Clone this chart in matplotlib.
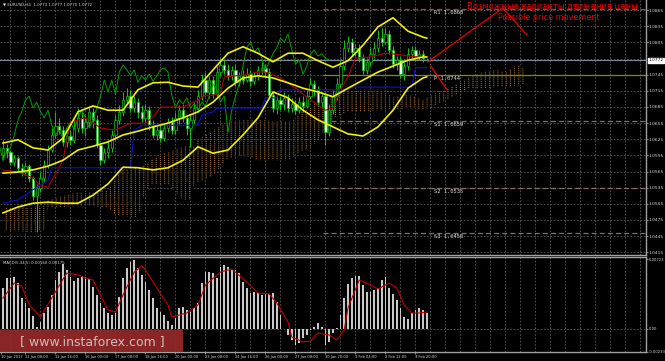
import matplotlib
matplotlib.use("Agg")
import matplotlib.pyplot as plt
from matplotlib.patches import Rectangle
from matplotlib.transforms import blended_transform_factory

# EURUSD H4, bar 0 = 10 Jan 2017 00:00
opens = [1.0596, 1.0609, 1.0601, 1.0583, 1.0590, 1.0572, 1.0564, 1.0575, 1.0553, 1.0519,
         1.0534, 1.0553, 1.0577, 1.0605, 1.0633, 1.0650, 1.0642, 1.0620, 1.0631, 1.0624,
         1.0646, 1.0665, 1.0646, 1.0657, 1.0676, 1.0661, 1.0614, 1.0586, 1.0601, 1.0609,
         1.0633, 1.0661, 1.0676, 1.0698, 1.0705, 1.0683, 1.0694, 1.0676, 1.0665, 1.0679,
         1.0651, 1.0633, 1.0642, 1.0627, 1.0646, 1.0657, 1.0642, 1.0665, 1.0679, 1.0665,
         1.0646, 1.0661, 1.0683, 1.0705, 1.0735, 1.0713, 1.0735, 1.0709, 1.0750, 1.0763,
         1.0754, 1.0744, 1.0754, 1.0731, 1.0743, 1.0735, 1.0746, 1.0733, 1.0743, 1.0754,
         1.0758, 1.0750, 1.0707, 1.0683, 1.0698, 1.0691, 1.0702, 1.0683, 1.0691, 1.0679,
         1.0694, 1.0687, 1.0705, 1.0728, 1.0717, 1.0694, 1.0705, 1.0638, 1.0679, 1.0705,
         1.0728, 1.0761, 1.0795, 1.0806, 1.0787, 1.0795, 1.0776, 1.0754, 1.0769, 1.0784,
         1.0795, 1.0813, 1.0806, 1.0821, 1.0791, 1.0765, 1.0772, 1.0746, 1.0761, 1.0784,
         1.0791, 1.0780, 1.0784, 1.0773]
highs = [1.0624, 1.0616, 1.0605, 1.0596, 1.0594, 1.0581, 1.0583, 1.0579, 1.0557, 1.0542,
         1.0564, 1.0586, 1.0614, 1.0646, 1.0676, 1.0665, 1.0650, 1.0638, 1.0642, 1.0661,
         1.0683, 1.0676, 1.0670, 1.0687, 1.0683, 1.0670, 1.0620, 1.0609, 1.0624, 1.0642,
         1.0670, 1.0689, 1.0713, 1.0720, 1.0717, 1.0705, 1.0702, 1.0689, 1.0691, 1.0687,
         1.0661, 1.0650, 1.0651, 1.0653, 1.0665, 1.0666, 1.0676, 1.0689, 1.0691, 1.0670,
         1.0672, 1.0694, 1.0717, 1.0746, 1.0750, 1.0743, 1.0743, 1.0761, 1.0776, 1.0772,
         1.0765, 1.0761, 1.0765, 1.0750, 1.0754, 1.0758, 1.0754, 1.0750, 1.0761, 1.0769,
         1.0765, 1.0758, 1.0713, 1.0705, 1.0705, 1.0713, 1.0709, 1.0702, 1.0698, 1.0704,
         1.0705, 1.0717, 1.0739, 1.0735, 1.0724, 1.0713, 1.0713, 1.0691, 1.0717, 1.0739,
         1.0772, 1.0810, 1.0817, 1.0813, 1.0802, 1.0802, 1.0784, 1.0776, 1.0795, 1.0806,
         1.0828, 1.0832, 1.0832, 1.0828, 1.0798, 1.0780, 1.0780, 1.0769, 1.0795, 1.0798,
         1.0798, 1.0791, 1.0791, 1.0777]
lows = [1.0586, 1.0590, 1.0577, 1.0575, 1.0564, 1.0557, 1.0558, 1.0545, 1.0512, 1.0452,
        1.0527, 1.0545, 1.0572, 1.0601, 1.0627, 1.0635, 1.0612, 1.0611, 1.0614, 1.0618,
        1.0638, 1.0637, 1.0631, 1.0650, 1.0646, 1.0609, 1.0577, 1.0581, 1.0590, 1.0601,
        1.0624, 1.0653, 1.0668, 1.0691, 1.0676, 1.0676, 1.0665, 1.0657, 1.0657, 1.0642,
        1.0627, 1.0624, 1.0620, 1.0622, 1.0638, 1.0635, 1.0635, 1.0653, 1.0657, 1.0633,
        1.0611, 1.0653, 1.0676, 1.0698, 1.0705, 1.0702, 1.0702, 1.0705, 1.0743, 1.0746,
        1.0735, 1.0735, 1.0724, 1.0724, 1.0728, 1.0731, 1.0724, 1.0728, 1.0735, 1.0746,
        1.0743, 1.0702, 1.0676, 1.0672, 1.0679, 1.0679, 1.0676, 1.0676, 1.0672, 1.0674,
        1.0676, 1.0683, 1.0698, 1.0705, 1.0687, 1.0683, 1.0614, 1.0631, 1.0672, 1.0698,
        1.0720, 1.0754, 1.0787, 1.0780, 1.0780, 1.0769, 1.0746, 1.0746, 1.0761, 1.0776,
        1.0787, 1.0798, 1.0802, 1.0784, 1.0758, 1.0754, 1.0739, 1.0735, 1.0754, 1.0776,
        1.0772, 1.0772, 1.0769, 1.0770]
closes = [1.0609, 1.0601, 1.0583, 1.0590, 1.0572, 1.0564, 1.0575, 1.0553, 1.0519, 1.0534,
          1.0553, 1.0577, 1.0605, 1.0633, 1.0650, 1.0642, 1.0620, 1.0631, 1.0624, 1.0646,
          1.0665, 1.0646, 1.0657, 1.0676, 1.0661, 1.0614, 1.0586, 1.0601, 1.0609, 1.0633,
          1.0661, 1.0676, 1.0698, 1.0705, 1.0683, 1.0694, 1.0676, 1.0665, 1.0679, 1.0651,
          1.0633, 1.0642, 1.0627, 1.0646, 1.0657, 1.0642, 1.0665, 1.0679, 1.0665, 1.0646,
          1.0661, 1.0683, 1.0705, 1.0735, 1.0713, 1.0735, 1.0709, 1.0750, 1.0763, 1.0754,
          1.0744, 1.0754, 1.0731, 1.0743, 1.0735, 1.0746, 1.0733, 1.0743, 1.0754, 1.0758,
          1.0750, 1.0707, 1.0683, 1.0698, 1.0691, 1.0702, 1.0683, 1.0691, 1.0679, 1.0694,
          1.0687, 1.0705, 1.0728, 1.0717, 1.0694, 1.0705, 1.0638, 1.0679, 1.0705, 1.0728,
          1.0761, 1.0795, 1.0806, 1.0787, 1.0795, 1.0776, 1.0754, 1.0769, 1.0784, 1.0795,
          1.0813, 1.0806, 1.0821, 1.0791, 1.0765, 1.0772, 1.0746, 1.0761, 1.0784, 1.0791,
          1.0780, 1.0784, 1.0776, 1.0772]

# Bollinger bands, read every 4 bars
bb_bars = [0, 4, 8, 12, 16, 20, 24, 28, 32, 36, 40, 44, 48, 52, 56, 60, 64, 68, 72, 76,
           80, 84, 88, 92, 96, 100, 104, 108, 112, 113]
bb_upper = [1.0618, 1.0624, 1.0609, 1.0605, 1.0627, 1.0676, 1.0687, 1.0679, 1.0679, 1.0717,
            1.0730, 1.0731, 1.0724, 1.0722, 1.0754, 1.0785, 1.0797, 1.0785, 1.0769, 1.0785,
            1.0785, 1.0771, 1.0759, 1.0771, 1.0800, 1.0834, 1.0851, 1.0826, 1.0815, 1.0813]
bb_middle = [1.0562, 1.0564, 1.0568, 1.0575, 1.0586, 1.0605, 1.0612, 1.0620, 1.0633, 1.0640,
             1.0648, 1.0655, 1.0665, 1.0676, 1.0694, 1.0720, 1.0739, 1.0743, 1.0739, 1.0730,
             1.0720, 1.0713, 1.0704, 1.0720, 1.0735, 1.0750, 1.0761, 1.0772, 1.0778, 1.0778]
bb_lower = [1.0488, 1.0499, 1.0506, 1.0508, 1.0506, 1.0506, 1.0521, 1.0542, 1.0573, 1.0572,
            1.0568, 1.0572, 1.0586, 1.0611, 1.0599, 1.0605, 1.0633, 1.0665, 1.0713, 1.0702,
            1.0679, 1.0661, 1.0648, 1.0635, 1.0631, 1.0648, 1.0679, 1.0720, 1.0739, 1.0741]

# Ichimoku
tenkan_bars = [0, 4, 8, 10, 12, 14, 16, 17, 18, 22, 26, 30, 34, 38, 40, 42, 48, 52, 54, 56,
               58, 59, 64, 68, 70, 74, 78, 82, 86, 88, 90, 92, 94, 98, 102, 106, 110, 113]
tenkan = [1.0568, 1.0564, 1.0553, 1.0538, 1.0536, 1.0560, 1.0586, 1.0624, 1.0657, 1.0665,
          1.0646, 1.0642, 1.0655, 1.0655, 1.0666, 1.0685, 1.0685, 1.0698, 1.0707, 1.0707,
          1.0711, 1.0741, 1.0744, 1.0750, 1.0750, 1.0739, 1.0720, 1.0698, 1.0679, 1.0683,
          1.0717, 1.0741, 1.0776, 1.0778, 1.0785, 1.0782, 1.0778, 1.0778]
kijun_bars = [0, 4, 8, 12, 13, 34, 35, 37, 52, 53, 56, 57, 69, 70, 73, 74, 92, 93, 109, 110, 113]
kijun = [1.0506, 1.0512, 1.0531, 1.0549, 1.0572, 1.0572, 1.0642, 1.0651, 1.0651, 1.0670,
         1.0676, 1.0683, 1.0683, 1.0702, 1.0702, 1.0717, 1.0717, 1.0722, 1.0722, 1.0758, 1.0758]
cloud_bars = [0, 4, 8, 11, 12, 16, 20, 24, 28, 30, 32, 36, 38, 40, 44, 48, 50, 51, 52, 56,
              60, 64, 68, 72, 76, 78, 80, 82, 84, 86, 88, 92, 96, 100, 104, 108, 110, 112, 116, 120,
              124, 128, 132, 134, 136, 138, 139]
cloud_top = [1.0499, 1.0499, 1.0499, 1.0501, 1.0512, 1.0519, 1.0527, 1.0527, 1.0531, 1.0553,
             1.0568, 1.0572, 1.0577, 1.0590, 1.0601, 1.0611, 1.0612, 1.0612, 1.0624, 1.0642,
             1.0657, 1.0661, 1.0661, 1.0659, 1.0657, 1.0665, 1.0679, 1.0685, 1.0702, 1.0707,
             1.0711, 1.0717, 1.0717, 1.0717, 1.0704, 1.0707, 1.0704, 1.0698, 1.0713, 1.0724,
             1.0739, 1.0750, 1.0754, 1.0748, 1.0759, 1.0763, 1.0754]
cloud_bottom = [1.0456, 1.0454, 1.0452, 1.0456, 1.0499, 1.0499, 1.0501, 1.0501, 1.0497, 1.0486,
                1.0482, 1.0480, 1.0531, 1.0542, 1.0542, 1.0512, 1.0512, 1.0545, 1.0545, 1.0558,
                1.0590, 1.0596, 1.0586, 1.0586, 1.0586, 1.0596, 1.0605, 1.0609, 1.0624, 1.0646,
                1.0665, 1.0676, 1.0677, 1.0679, 1.0679, 1.0683, 1.0683, 1.0679, 1.0691, 1.0704,
                1.0718, 1.0720, 1.0722, 1.0722, 1.0724, 1.0726, 1.0726]
chikou_shift = 26

# MACD(5,34,5)
macd_hist = [0.00424, 0.00527, 0.00527, 0.00537, 0.00475, 0.00320, 0.00269, 0.00217, 0.00134, 0.00021,
             0.00072, 0.00165, 0.00227, 0.00351, 0.00506, 0.00589, 0.00671, 0.00609, 0.00537, 0.00496,
             0.00527, 0.00547, 0.00537, 0.00516, 0.00434, 0.00351, 0.00269, 0.00217, 0.00165, 0.00145,
             0.00165, 0.00331, 0.00527, 0.00630, 0.00692, 0.00713, 0.00630, 0.00558, 0.00486, 0.00403,
             0.00320, 0.00217, 0.00176, 0.00145, 0.00083, 0.00041, 0.00114, 0.00217, 0.00227, 0.00196,
             0.00176, 0.00217, 0.00269, 0.00475, 0.00589, 0.00589, 0.00578, 0.00527, 0.00640, 0.00661,
             0.00640, 0.00609, 0.00609, 0.00578, 0.00486, 0.00424, 0.00372, 0.00382, 0.00372, 0.00351,
             0.00362, 0.00362, 0.00372, 0.00279, 0.00145, 0.00003, -0.00062, -0.00114, -0.00165, -0.00145,
             -0.00093, -0.00062, -0.00010, 0.00021, 0.00062, 0.00021, -0.00165, -0.00134, -0.00041, 0.00010,
             0.00145, 0.00320, 0.00465, 0.00527, 0.00547, 0.00547, 0.00455, 0.00382, 0.00382, 0.00403,
             0.00424, 0.00506, 0.00537, 0.00424, 0.00362, 0.00300, 0.00217, 0.00124, 0.00103, 0.00165,
             0.00196, 0.00217, 0.00196, 0.00160]
signal_bars = [0, 3, 5, 7, 10, 13, 17, 20, 22, 24, 26, 28, 30, 32, 35, 37, 38, 41, 44, 45,
               49, 52, 54, 58, 61, 65, 68, 71, 73, 76, 77, 80, 82, 84, 87, 89, 91, 92, 95, 98,
               100, 103, 105, 107, 109, 111, 113]
macd_signal = [0.00320, 0.00475, 0.00444, 0.00248, 0.00124, 0.00320, 0.00578, 0.00558, 0.00527, 0.00506,
               0.00351, 0.00196, 0.00176, 0.00351, 0.00589, 0.00651, 0.00609, 0.00424, 0.00248, 0.00124,
               0.00165, 0.00248, 0.00455, 0.00589, 0.00620, 0.00486, 0.00372, 0.00362, 0.00269, 0.00072,
               -0.00083, -0.00134, -0.00124, -0.00041, -0.00062, -0.00114, -0.00010, 0.00217, 0.00506, 0.00455,
               0.00413, 0.00475, 0.00424, 0.00248, 0.00165, 0.00165, 0.00175]

# pivots
pivot_names = ["R1", "P", "S1", "S2", "S3"]
pivot_values = [1.0868, 1.0744, 1.0659, 1.0535, 1.0450]
pivot_start = 85.3
current_price = 1.0772

# hand drawn forecast lines
path_up_bars = [113.3, 133.3, 139.7]
path_up_prices = [1.0769, 1.0869, 1.0819]
path_down_bars = [114.1, 118.4]
path_down_prices = [1.0761, 1.0717]

price_ticks = [1.0865, 1.0835, 1.0805, 1.0745, 1.0715, 1.0685, 1.0655, 1.0625, 1.0595,
               1.0565, 1.0535, 1.0505, 1.0475, 1.0445, 1.0415]
grid_prices = price_ticks + [1.0775]
time_labels = ["10 Jan 2017", "11 Jan 08:00", "12 Jan 16:00", "16 Jan 00:00", "17 Jan 08:00",
               "18 Jan 16:00", "20 Jan 00:00", "23 Jan 08:00", "24 Jan 16:00", "26 Jan 00:00",
               "27 Jan 08:00", "30 Jan 20:00", "1 Feb 04:00", "2 Feb 12:00", "3 Feb 20:00"]

W, H = 665, 361
FG = "#d8d8d8"
GRID = "#5e5e5e"
FRAME = "#a0a0a0"
GREEN = "#12c012"

plt.rcParams["hatch.linewidth"] = 0.8

fig = plt.figure(figsize=(W / 100, H / 100), dpi=100, facecolor="black")
ax = fig.add_axes([0, 1 - 255 / H, 646 / W, 255 / H], facecolor="black")
axm = fig.add_axes([0, 1 - 352 / H, 646 / W, 95 / H], facecolor="black")

xlim = (-0.8, 171.47)
grid_bars = [1.87 + 4 * m for m in range(43)]
label_bars = [-0.4] + [8 * k - 2.13 for k in range(1, len(time_labels))]

for a in (ax, axm):
    a.set_xlim(*xlim)
    for gx in grid_bars:
        a.axvline(gx, color=GRID, lw=0.6, ls=(0, (2, 2)), zorder=0)
    for side in ("left", "top", "right", "bottom"):
        a.spines[side].set_color(FRAME)
        a.spines[side].set_linewidth(1.0)
    a.spines["left"].set_visible(False)
    a.yaxis.tick_right()
    a.tick_params(axis="y", colors=FRAME, labelcolor=FG, labelsize=3.2, length=1.5, pad=0.6, width=0.6)

ax.spines["top"].set_visible(False)

# ----- main chart -----
ax.set_ylim(1.04097, 1.0884)
for gy in grid_prices:
    ax.axhline(gy, color=GRID, lw=0.6, ls=(0, (2, 2)), zorder=0)

ax.fill_between(cloud_bars, cloud_top, cloud_bottom, facecolor="none", edgecolor="#b0783c",
                hatch="||||", linewidth=0, zorder=1)
ax.fill_between(cloud_bars, cloud_top, cloud_bottom, facecolor="none", edgecolor="black",
                hatch="--------", linewidth=0, zorder=1.1)

bars = list(range(len(closes)))
ax.vlines(bars, lows, highs, color=GREEN, lw=0.75, zorder=3)
for i in bars:
    o, c = opens[i], closes[i]
    body = max(abs(c - o), 0.00006)
    face = "#e6ffe6" if c < o else "black"
    ax.bar(i, body, bottom=min(o, c), width=0.62, color=face, edgecolor=GREEN, linewidth=0.5, zorder=3.5)

chikou_x = [b - chikou_shift for b in bars]
ax.plot(chikou_x, closes, color="#00a000", lw=0.7, zorder=4)
ax.plot(tenkan_bars, tenkan, color="#b00000", lw=0.8, zorder=4)
ax.plot(kijun_bars, kijun, color="#1010d0", lw=0.8, zorder=4)
for band in (bb_upper, bb_middle, bb_lower):
    ax.plot(bb_bars, band, color="#f0f000", lw=1.2, zorder=5)

ax.axhline(current_price, color="#7b8aa0", lw=0.8, zorder=2)
for name, val in zip(pivot_names, pivot_values):
    if name == "P":
        ax.plot([pivot_start, xlim[1]], [val, val], color="#8a8a00", lw=0.9, zorder=2)
    else:
        col = "#a04a2a" if name.startswith("R") else "#8c6c66"
        ax.plot([pivot_start, xlim[1]], [val, val], color=col, lw=0.9, ls=(0, (4, 2.5)), zorder=2)
    ax.text(115.0, val - 0.00065, f"{name} {val:.4f}", color=FG, fontsize=4.0,
            family="DejaVu Sans Mono", va="center", ha="left", zorder=6)

ax.plot(path_up_bars, path_up_prices, color="#ee0000", lw=0.9, zorder=6)
ax.plot(path_down_bars, path_down_prices, color="#ee0000", lw=0.9, zorder=6)
ax.text(146.6, 1.0871, "Возможные варианты движения цены", color="#e80000", fontsize=6.0,
        ha="center", va="center", zorder=7)
ax.text(145.6, 1.0852, "Possible price movement", color="#e80000", fontsize=5.8,
        ha="center", va="center", zorder=7)

ax.set_xticks([])
ax.set_yticks(price_ticks)
ax.set_yticklabels([f"{p:.4f}" for p in price_ticks])
trans = blended_transform_factory(ax.transAxes, ax.transData)
ax.text(1.004, current_price, f"{current_price:.4f}", transform=trans, fontsize=3.2, color="black",
        ha="left", va="center", bbox=dict(boxstyle="square,pad=0.15", fc="white", ec="white"),
        clip_on=False, zorder=8)

fig.text(3 / W, 1 - 5 / H, "▼ EURUSD,H4  1.0773 1.0777 1.0770 1.0772", color=FG, fontsize=2.9,
         ha="left", va="center")

# ----- MACD -----
axm.set_ylim(-0.00238, 0.00744)
axm.axhline(0, color=GRID, lw=0.6, ls=(0, (2, 2)), zorder=0)
axm.bar(bars, macd_hist, width=0.5, color="#c8c8c8", linewidth=0, zorder=2)
axm.plot(signal_bars, macd_signal, color="#c00000", lw=0.8, zorder=3)
axm.set_yticks([0.00723, 0.0, -0.00233])
axm.set_yticklabels(["0.00723", "0.00", "-0.00233"])
axm.tick_params(axis="y", labelsize=2.7, pad=0.4)
axm.set_xticks(label_bars)
axm.set_xticklabels(time_labels)
axm.tick_params(axis="x", colors=FRAME, labelcolor=FG, labelsize=2.6, length=1.5, pad=0.8, width=0.6)
for lbl in axm.get_xticklabels():
    lbl.set_horizontalalignment("left")
fig.text(3 / W, 1 - 263 / H, "MACD(5,34,5) 0.00160 0.00175", color=FG, fontsize=2.8,
         ha="left", va="center")

axm.add_patch(Rectangle((0, 0), 183 / 646, 22 / 95, transform=axm.transAxes,
                        facecolor="#9a2a2a", edgecolor="none", alpha=0.9, zorder=6))
axm.text(92 / 646, 10 / 95, "[ www.instaforex.com ]", transform=axm.transAxes, fontsize=9,
         color="#d8d8d8", alpha=0.85, ha="center", va="center", zorder=7)

fig.savefig("out.png", dpi=100, facecolor="black")
